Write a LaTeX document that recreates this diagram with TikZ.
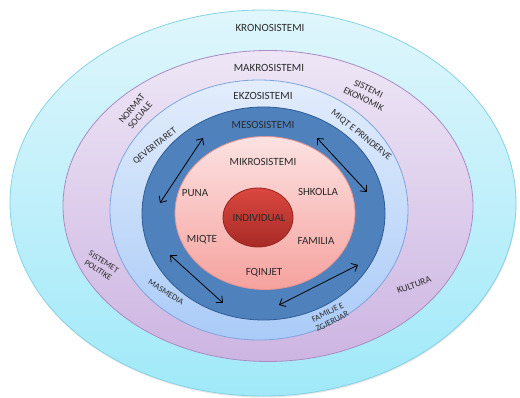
\documentclass[tikz,border=0pt]{standalone}
\usepackage{fontspec}
\setmainfont{Carlito}
\usetikzlibrary{shapes.geometric,arrows.meta,shadows}
\definecolor{kronT}{HTML}{DFF6FC}\definecolor{kronB}{HTML}{A0E9F9}\definecolor{kronD}{HTML}{86D3E6}
\definecolor{makT}{HTML}{EEE6F6}\definecolor{makB}{HTML}{CDB5E2}\definecolor{makD}{HTML}{A98CC4}
\definecolor{ekzT}{HTML}{E3EDFC}\definecolor{ekzB}{HTML}{AACBF8}\definecolor{ekzD}{HTML}{7FA5DB}
\definecolor{mesF}{HTML}{4F81BD}\definecolor{mesD}{HTML}{2F5C94}
\definecolor{mikT}{HTML}{FCE2E2}\definecolor{mikB}{HTML}{F6A29E}\definecolor{mikD}{HTML}{E39390}
\definecolor{indT}{HTML}{DA4840}\definecolor{indB}{HTML}{A82A26}\definecolor{indD}{HTML}{962420}
\definecolor{txt}{HTML}{2A2A2A}
\tikzset{
  ring/.style={ellipse, inner sep=0pt, outer sep=0pt, line width=0.8pt},
  lbl/.style={text=txt, font=\fontsize{11}{13}\selectfont, inner sep=1pt, align=center},
  slbl/.style={text=txt, font=\fontsize{9.5}{11}\selectfont, inner sep=1pt, align=center},
  tlbl/.style={text=txt, font=\fontsize{8.5}{10}\selectfont, inner sep=1pt, align=center},
  link/.style={line width=0.8pt, black, {Straight Barb[length=5pt,width=9pt]}-{Straight Barb[length=5pt,width=9pt]}}
}
\begin{document}
\begin{tikzpicture}[x=1pt,y=-1pt]
\useasboundingbox (0,0) rectangle (520,398);
\node[ring, minimum width=506, minimum height=386, top color=kronT, bottom color=kronB, draw=kronD,
      drop shadow={opacity=0.2, shadow xshift=0.5pt, shadow yshift=-1.5pt}] (kron) at (263,203) {};
\node[ring, minimum width=410, minimum height=311, top color=makT, bottom color=makB, draw=makD] (makro) at (268,206) {};
\node[ring, minimum width=298, minimum height=260, top color=ekzT, bottom color=ekzB, draw=ekzD] (ekzo) at (259,210) {};
\node[ring, minimum width=243, minimum height=213, fill=mesF, draw=mesD] (meso) at (263.5,213.5) {};
\node[ring, minimum width=180, minimum height=153, top color=mikT, bottom color=mikB, draw=mikD] (mikro) at (265,213) {};
\node[ring, minimum width=70, minimum height=59, top color=indT, bottom color=indB, draw=indD] (indiv) at (258,217.5) {};

\node[lbl] (tkron) at (270,28) {KRONOSISTEMI};
\node[lbl] (tmak) at (269,68) {MAKROSISTEMI};
\node[lbl] (tekz) at (263,96) {EKZOSISTEMI};
\node[lbl] (tmes) at (263,125) {MESOSISTEMI};
\node[lbl] (tmik) at (263,162) {MIKROSISTEMI};
\node[lbl] (tpuna) at (195,193) {PUNA};
\node[lbl] (tshk) at (318,192) {SHKOLLA};
\node[lbl] (tind) at (259,218) {INDIVIDUAL};
\node[lbl] (tmiq) at (202,240) {MIQTE};
\node[lbl] (tfam) at (316,241) {FAMILIA};
\node[lbl] (tfqi) at (264,273) {FQINJET};

\node[slbl, rotate=50] (tnorm) at (136,112) {NORMAT\\SOCIALE};
\node[slbl, rotate=-26] (tek) at (366,94) {SISTEMI\\EKONOMIK};
\node[slbl, rotate=38] (tqev) at (155,146) {QEVERITARET};
\node[slbl, rotate=-39] (tmiqt) at (361,135) {MIQT E PRINDERVE};
\node[tlbl, rotate=-33] (tpol) at (101,266) {SISTEMET\\POLITIKE};
\node[tlbl, rotate=-32] (tmas) at (166,292) {MASMEDIA};
\node[tlbl, rotate=27] (tzgj) at (330,317) {FAMILJE E\\ZGJERUAR};
\node[slbl, rotate=20] (tkul) at (414,285) {KULTURA};

\coordinate (a1) at (160,203); \coordinate (a2) at (203,138);
\coordinate (b1) at (317,138); \coordinate (b2) at (367,192);
\coordinate (c1) at (170,255); \coordinate (c2) at (223,303);
\coordinate (d1) at (279,305); \coordinate (d2) at (358,265);
\draw[link] (a1) -- (a2);
\draw[link] (b1) -- (b2);
\draw[link] (c1) -- (c2);
\draw[link] (d1) -- (d2);
\end{tikzpicture}
\end{document}
